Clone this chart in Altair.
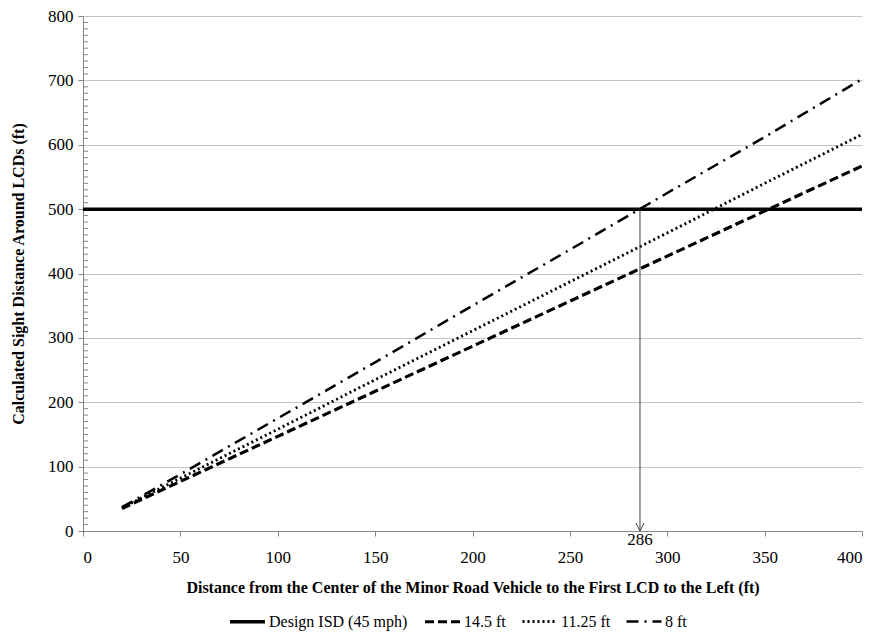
import altair as alt
import pandas as pd

# ---- data ----
x_vals = [20, 50, 100, 150, 200, 250, 300, 350, 400]
sd_14_5 = [35, 77, 147, 217, 287, 357, 427, 497, 567]
sd_11_25 = [36, 82, 158, 235, 311, 387, 463, 540, 616]
sd_8 = [37, 88, 175, 262, 350, 437, 525, 612, 702]
isd_x = [0, 400]
isd_y = [500, 500]
series_names = ["Design ISD (45 mph)", "14.5 ft", "11.25 ft", "8 ft"]
cross_x = 286
minor_ticks = [v for v in range(0, 801, 10) if v % 100 != 0]

rows = []
for xv, yv in zip(isd_x, isd_y):
    rows.append({"x": xv, "y": yv, "series": series_names[0]})
for name, vals in zip(series_names[1:], [sd_14_5, sd_11_25, sd_8]):
    for xv, yv in zip(x_vals, vals):
        rows.append({"x": xv, "y": yv, "series": name})
df = pd.DataFrame(rows)

FONT = "Liberation Serif"
GREY = "#868686"

xscale = alt.Scale(domain=[0, 400], nice=False)
yscale = alt.Scale(domain=[0, 800], nice=False)

leg = alt.Legend(title=None, orient="none", direction="horizontal", legendX=145, legendY=586)

lines = alt.Chart(df).mark_line(color="black", clip=True).encode(
    x=alt.X("x:Q", scale=xscale,
            axis=alt.Axis(title="Distance from the Center of the Minor Road Vehicle to the First LCD to the Left (ft)",
                          values=list(range(0, 401, 50)), grid=False,
                          labelFont=FONT, labelFontSize=17,
                          tickSize=5, labelPadding=13, titlePadding=14)),
    y=alt.Y("y:Q", scale=yscale,
            axis=alt.Axis(title="Calculated Sight Distance Around LCDs (ft)",
                          values=list(range(0, 801, 100)), grid=True,
                          labelFont=FONT, labelFontSize=17,
                          tickSize=5, labelPadding=5, titlePadding=21)),
    strokeDash=alt.StrokeDash("series:N",
                              scale=alt.Scale(domain=series_names,
                                              range=[[1, 0], [9, 4], [2, 3], [12, 6, 2, 6]]),
                              legend=leg),
    strokeWidth=alt.StrokeWidth("series:N",
                                scale=alt.Scale(domain=series_names, range=[3.5, 2.5, 2.5, 2.5]),
                                legend=leg),
)

minor_df = pd.DataFrame({"y": minor_ticks})
minor = alt.Chart(minor_df).mark_rule(color=GREY, strokeWidth=1).encode(
    y=alt.Y("y:Q", scale=yscale),
    x=alt.value(0), x2=alt.value(5),
)

arrow_df = pd.DataFrame({"x": [cross_x], "y": [isd_y[0]], "y0": [0], "label": [str(cross_x)]})
arrow = alt.Chart(arrow_df).mark_rule(color="#404040", strokeWidth=1).encode(
    x=alt.X("x:Q", scale=xscale),
    y=alt.Y("y:Q", scale=yscale),
    y2="y0:Q",
)
head = alt.Chart(arrow_df).mark_point(
    shape="M-1,-2L0,0L1,-2", size=64, filled=False, color="#404040", strokeWidth=1, opacity=1
).encode(
    x=alt.X("x:Q", scale=xscale),
    y=alt.Y("y0:Q", scale=yscale),
)
label = alt.Chart(arrow_df).mark_text(
    font=FONT, fontSize=17, dy=9, baseline="middle", align="center", color="black"
).encode(
    x=alt.X("x:Q", scale=xscale),
    y=alt.Y("y0:Q", scale=yscale),
    text="label:N",
)

chart = alt.layer(lines, minor, arrow, head, label).properties(
    width=779, height=515,
    autosize=alt.AutoSizeParams(type="none"),
    padding={"left": 75, "top": 8, "right": 10, "bottom": 110},
).configure_view(stroke=None).configure_axis(
    labelFont=FONT, labelFontSize=17, labelColor="black",
    titleFont=FONT, titleFontSize=16, titleFontWeight="bold", titleColor="black",
    domainColor=GREY, tickColor=GREY, gridColor="#c4c4c4",
).configure_legend(
    symbolType="stroke", symbolSize=1225, symbolStrokeColor="black",
    labelFont=FONT, labelFontSize=16, labelColor="black", labelLimit=0,
    columnPadding=10, labelOffset=2,
)

chart.save("out.html", embed_options={"renderer": "svg", "actions": False})
